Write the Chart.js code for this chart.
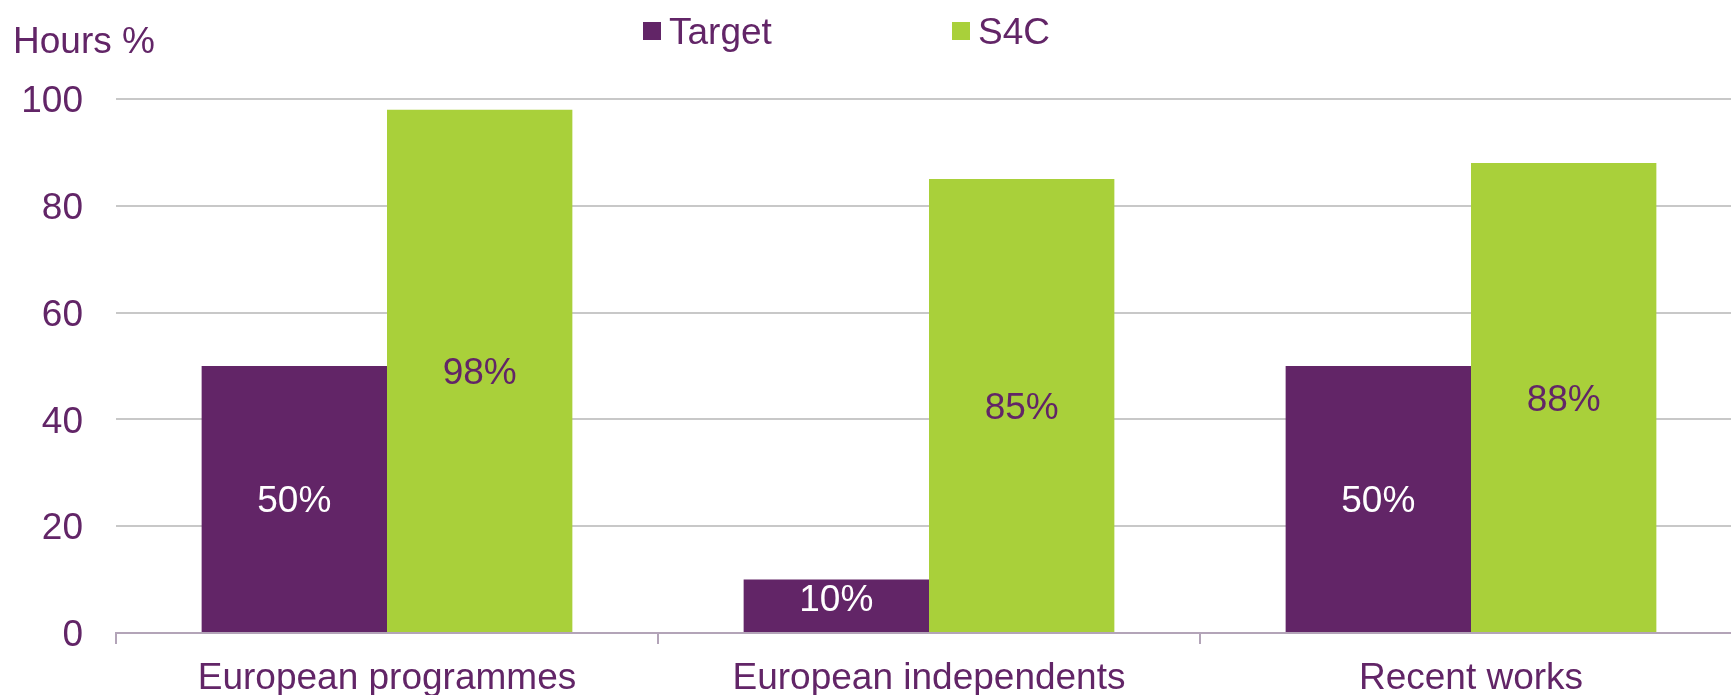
<!DOCTYPE html>
<html>
<head>
<meta charset="utf-8">
<script src="https://cdn.jsdelivr.net/npm/chart.js@4"></script>
<style>
    html, body { margin: 0; padding: 0; background: #fff; overflow: hidden; }
    canvas { display: block; }
</style>
</head>
<body>
<canvas id="chart" width="1744" height="720"></canvas>
<script>
// Данные
const categories = ['European programmes', 'European independents', 'Recent works'];
const targetValues = [50, 10, 50];
const s4cValues = [98, 85, 88];
const yTicks = [0, 20, 40, 60, 80, 100];
const yTitle = 'Hours %';

const PURPLE = '#622567';
const GREEN = '#a9d03a';
const FONT = 'Liberation Sans, Arial, sans-serif';
const FONT_SIZE = 37;
const CAP_HALF = FONT_SIZE * 0.716 / 2; // половина высоты цифр/заглавных
const LABEL_BOX = 60; // если подпись не влезает в столбик, прижимаем её к верху

// Подписи значений внутри столбиков
const valueLabels = {
    id: 'valueLabels',
    afterDatasetsDraw(chart) {
        const ctx = chart.ctx;
        ctx.save();
        ctx.font = `${FONT_SIZE}px ${FONT}`;
        ctx.textAlign = 'center';
        ctx.textBaseline = 'alphabetic';
        chart.data.datasets.forEach((ds, i) => {
            const meta = chart.getDatasetMeta(i);
            ctx.fillStyle = i === 0 ? '#ffffff' : PURPLE;
            meta.data.forEach((bar, j) => {
                const h = bar.base - bar.y;
                let y = (bar.y + bar.base) / 2;
                if (h < LABEL_BOX) {
                    y = bar.y + 18.5;
                }
                ctx.fillText(ds.data[j] + '%', bar.x, y + CAP_HALF);
            });
        });
        ctx.restore();
    }
};

// Подписи оси Y, заголовок оси и легенда
const topTexts = {
    id: 'topTexts',
    afterDraw(chart) {
        const ctx = chart.ctx;
        const yScale = chart.scales.y;
        ctx.save();
        ctx.font = `${FONT_SIZE}px ${FONT}`;
        ctx.textBaseline = 'alphabetic';
        ctx.fillStyle = PURPLE;

        ctx.textAlign = 'right';
        yTicks.forEach(v => {
            ctx.fillText(String(v), chart.chartArea.left - 33, yScale.getPixelForValue(v) + CAP_HALF);
        });

        ctx.textAlign = 'left';
        ctx.fillText(yTitle, 13, 40 + CAP_HALF);

        const legendX = [643, 952];
        chart.data.datasets.forEach((ds, i) => {
            ctx.fillStyle = ds.backgroundColor;
            ctx.fillRect(legendX[i], 22, 18, 18);
            ctx.fillStyle = PURPLE;
            ctx.fillText(ds.label, legendX[i] + 26, 31 + CAP_HALF);
        });
        ctx.restore();
    }
};

const ctx = document.getElementById('chart').getContext('2d');
const chart = new Chart(ctx, {
    type: 'bar',
    data: {
        labels: categories,
        datasets: [
            { label: 'Target', data: targetValues, backgroundColor: PURPLE },
            { label: 'S4C', data: s4cValues, backgroundColor: GREEN }
        ]
    },
    options: {
        responsive: false,
        devicePixelRatio: 1,
        animation: false,
        layout: { padding: { top: 99, right: 2, left: 0, bottom: 0 } },
        datasets: {
            bar: { categoryPercentage: 0.684, barPercentage: 1.0 }
        },
        plugins: {
            legend: { display: false },
            tooltip: { enabled: false }
        },
        scales: {
            x: {
                afterFit: (s) => { s.height = 87; },
                grid: {
                    offset: true,
                    drawOnChartArea: false,
                    drawTicks: true,
                    tickLength: 11,
                    color: '#b3a4b8',
                    lineWidth: 2
                },
                border: { display: true, color: '#b3a4b8', width: 2 },
                ticks: {
                    color: PURPLE,
                    font: { family: FONT, size: FONT_SIZE },
                    padding: 13,
                    maxRotation: 0,
                    autoSkip: false
                }
            },
            y: {
                min: 0,
                max: 100,
                afterFit: (s) => { s.width = 116; },
                afterBuildTicks: (s) => { s.ticks = yTicks.map(v => ({ value: v })); },
                grid: {
                    drawTicks: false,
                    color: (c) => c.tick && c.tick.value === 0 ? 'rgba(0,0,0,0)' : '#c8c8c8',
                    lineWidth: 2
                },
                border: { display: false },
                ticks: { display: false }
            }
        }
    },
    plugins: [valueLabels, topTexts]
});
</script>
</body>
</html>
